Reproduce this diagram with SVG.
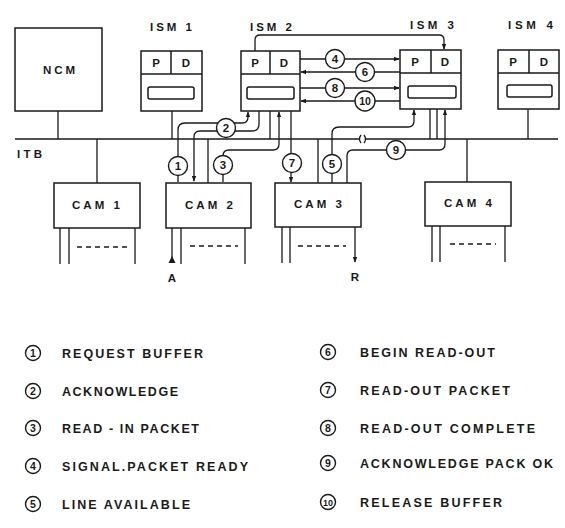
<svg xmlns="http://www.w3.org/2000/svg" width="565" height="528" viewBox="0 0 565 528">
<defs>
<marker id="ah" viewBox="0 0 8 8" refX="7" refY="4" markerWidth="6" markerHeight="6" orient="auto" markerUnits="userSpaceOnUse">
<path d="M0,1 L8,4 L0,7 Z" fill="#1a1a1a"/>
</marker>
<style>
.b{fill:none;stroke:#1a1a1a;stroke-width:1.5}
.ln{fill:none;stroke:#1a1a1a;stroke-width:1.3}
.c{fill:#fff;stroke:#1a1a1a;stroke-width:1.4}
.t{font-family:"Liberation Sans",Arial,sans-serif;font-weight:bold;fill:#1a1a1a}
.lbl{font-size:11.5px}
.n{font-size:11.5px;text-anchor:middle}
.ln8{font-size:10.5px;text-anchor:middle}
.lg{font-size:12.5px}
.dash{stroke:#1a1a1a;stroke-width:1.3;stroke-dasharray:5,4}
</style>
</defs>
<rect width="565" height="528" fill="#fff"/>

<g id="connectors">
<!-- bus ITB -->
<path class="b" d="M15,139 H359 M366,139 H558"/>
<path class="ln" d="M361,135 Q358,139 361,143 M364,135 Q367,139 364,143"/>
<!-- bus drops -->
<path class="ln" d="M58,111 V139 M172,111 V139 M270,111 V139 M430,109 V139 M437,109 V139 M528,109 V139"/>
<path class="ln" d="M97,139 V183 M208,139 V183 M318,139 V183 M467,139 V182"/>
<!-- top P(ISM2) to D(ISM3) -->
<path class="ln" d="M255,51 V40 Q255,35 260,35 H439 Q444,35 444,40 V49" marker-end="url(#ah)"/>
<!-- 4,6,8,10 -->
<path class="ln" d="M300,59 H399" marker-end="url(#ah)"/>
<path class="ln" d="M400,72 H301" marker-end="url(#ah)"/>
<path class="ln" d="M300,88 H399" marker-end="url(#ah)"/>
<path class="ln" d="M400,101 H301" marker-end="url(#ah)"/>
<!-- 1 -->
<path class="ln" d="M178,182 V130 Q178,123 185,123 H242 Q248,123 248,117 V112" marker-end="url(#ah)"/>
<!-- 2 -->
<path class="ln" d="M259,111 V124 Q259,131 252,131 H200 Q194,131 194,137 V181" marker-end="url(#ah)"/>
<!-- 3 -->
<path class="ln" d="M223,182 V156 Q223,150 229,150 H273 Q279,150 279,144 V112" marker-end="url(#ah)"/>
<!-- 7 -->
<path class="ln" d="M291,111 V182" marker-end="url(#ah)"/>
<!-- 5 -->
<path class="ln" d="M332,183 V134 Q332,127 339,127 H408 Q414,127 414,121 V110" marker-end="url(#ah)"/>
<!-- 9 -->
<path class="ln" d="M347,183 V156 Q347,150 353,150 H439 Q445,150 445,144 V110" marker-end="url(#ah)"/>
<!-- A and R -->
<path class="ln" d="M172,228 V260"/>
<path d="M168.5,263 L172,256 L175.5,263 Z" fill="#1a1a1a"/>
<path class="ln" d="M355,227 V262" marker-end="url(#ah)"/>
</g>

<g id="circles">
<circle class="c" cx="335" cy="59" r="9.5"/><text class="t n" x="335" y="63">4</text>
<circle class="c" cx="365" cy="72" r="9.5"/><text class="t n" x="365" y="76">6</text>
<circle class="c" cx="335" cy="88" r="9.5"/><text class="t n" x="335" y="92">8</text>
<circle class="c" cx="365" cy="101" r="10"/><text class="t n" x="365" y="105" style="font-size:10.5px">10</text>
<circle class="c" cx="178" cy="166" r="9.5"/><text class="t n" x="178" y="170">1</text>
<circle class="c" cx="226" cy="128" r="9.5"/><text class="t n" x="226" y="132">2</text>
<circle class="c" cx="223" cy="165" r="9.5"/><text class="t n" x="223" y="169">3</text>
<circle class="c" cx="292" cy="163" r="9.5"/><text class="t n" x="292" y="167">7</text>
<circle class="c" cx="332" cy="164" r="9.5"/><text class="t n" x="332" y="168">5</text>
<circle class="c" cx="396" cy="150" r="9.5"/><text class="t n" x="396" y="154">9</text>
</g>

<g id="ncm">
<rect class="b" x="15" y="28" width="87" height="83"/>
<text class="t lbl" x="43" y="74" textLength="32" lengthAdjust="spacing">NCM</text>
</g>
<text id="itb" class="t lbl" x="17" y="158" textLength="25" lengthAdjust="spacing">ITB</text>

<g id="ism1">
<text class="t lbl" x="150" y="31" textLength="42" lengthAdjust="spacing">ISM 1</text>
<rect class="b" x="141" y="51" width="61" height="60"/>
<path class="b" d="M141,74 H202 M171,51 V74"/>
<rect class="b" x="148" y="87" width="46" height="12" rx="2"/>
<text class="t n" x="156" y="67">P</text><text class="t n" x="186" y="67">D</text>
</g>
<g id="ism2">
<text class="t lbl" x="250" y="31" textLength="42" lengthAdjust="spacing">ISM 2</text>
<rect class="b" x="241" y="51" width="59" height="60"/>
<path class="b" d="M241,74 H300 M270,51 V74"/>
<rect class="b" x="247" y="87" width="47" height="12" rx="2"/>
<text class="t n" x="255" y="67">P</text><text class="t n" x="284" y="67">D</text>
</g>
<g id="ism3">
<text class="t lbl" x="410" y="29" textLength="44" lengthAdjust="spacing">ISM 3</text>
<rect class="b" x="400" y="50" width="61" height="59"/>
<path class="b" d="M400,73 H461 M431,50 V73"/>
<rect class="b" x="408" y="86" width="48" height="12" rx="2"/>
<text class="t n" x="415" y="66">P</text><text class="t n" x="445" y="66">D</text>
</g>
<g id="ism4">
<text class="t lbl" x="508" y="29" textLength="45" lengthAdjust="spacing">ISM 4</text>
<rect class="b" x="498" y="50" width="61" height="59"/>
<path class="b" d="M498,73 H559 M529,50 V73"/>
<rect class="b" x="507" y="85" width="45" height="12" rx="2"/>
<text class="t n" x="513" y="66">P</text><text class="t n" x="544" y="66">D</text>
</g>

<g id="cam1">
<rect class="b" x="54" y="183" width="86" height="45"/>
<text class="t lbl" x="72" y="209" textLength="48" lengthAdjust="spacing">CAM 1</text>
<path class="ln" d="M60,228 V264 M69,228 V264 M135,228 V264"/>
<path class="dash" d="M77,247 H128"/>
</g>
<g id="cam2">
<rect class="b" x="166" y="183" width="85" height="45"/>
<text class="t lbl" x="185" y="209" textLength="48" lengthAdjust="spacing">CAM 2</text>
<path class="ln" d="M181,228 V264 M245,228 V264"/>
<path class="dash" d="M190,246 H238"/>
<text class="t lbl" x="172" y="282" text-anchor="middle">A</text>
</g>
<g id="cam3">
<rect class="b" x="275" y="183" width="86" height="44"/>
<text class="t lbl" x="294" y="208" textLength="48" lengthAdjust="spacing">CAM 3</text>
<path class="ln" d="M282,227 V263 M290,227 V263"/>
<path class="dash" d="M298,246 H346"/>
<text class="t lbl" x="355" y="281" text-anchor="middle">R</text>
</g>
<g id="cam4">
<rect class="b" x="425" y="182" width="86" height="44"/>
<text class="t lbl" x="444" y="207" textLength="48" lengthAdjust="spacing">CAM 4</text>
<path class="ln" d="M432,226 V262 M440,226 V262 M505,226 V262"/>
<path class="dash" d="M450,244 H496"/>
</g>

<g id="legend">
<circle class="c" cx="33" cy="353" r="7.5"/><text class="t ln8" x="33" y="357">1</text>
<text class="t lg" x="62" y="358" textLength="141" lengthAdjust="spacing">REQUEST BUFFER</text>
<circle class="c" cx="33" cy="391" r="7.5"/><text class="t ln8" x="33" y="395">2</text>
<text class="t lg" x="62" y="396" textLength="116" lengthAdjust="spacing">ACKNOWLEDGE</text>
<circle class="c" cx="33" cy="428" r="7.5"/><text class="t ln8" x="33" y="432">3</text>
<text class="t lg" x="62" y="433" textLength="137" lengthAdjust="spacing">READ - IN PACKET</text>
<circle class="c" cx="33" cy="466" r="7.5"/><text class="t ln8" x="33" y="470">4</text>
<text class="t lg" x="62" y="471" textLength="186" lengthAdjust="spacing">SIGNAL.PACKET READY</text>
<circle class="c" cx="33" cy="504" r="7.5"/><text class="t ln8" x="33" y="508">5</text>
<text class="t lg" x="62" y="509" textLength="128" lengthAdjust="spacing">LINE AVAILABLE</text>

<circle class="c" cx="328" cy="352" r="7.5"/><text class="t ln8" x="328" y="356">6</text>
<text class="t lg" x="360" y="357" textLength="135" lengthAdjust="spacing">BEGIN READ-OUT</text>
<circle class="c" cx="328" cy="390" r="7.5"/><text class="t ln8" x="328" y="394">7</text>
<text class="t lg" x="360" y="395" textLength="150" lengthAdjust="spacing">READ-OUT PACKET</text>
<circle class="c" cx="328" cy="428" r="7.5"/><text class="t ln8" x="328" y="432">8</text>
<text class="t lg" x="360" y="433" textLength="175" lengthAdjust="spacing">READ-OUT COMPLETE</text>
<circle class="c" cx="328" cy="463" r="7.5"/><text class="t ln8" x="328" y="467">9</text>
<text class="t lg" x="360" y="468" textLength="193" lengthAdjust="spacing">ACKNOWLEDGE PACK OK</text>
<circle class="c" cx="328" cy="502" r="7.5"/><text class="t ln8" x="328" y="505.5" style="font-size:9px">10</text>
<text class="t lg" x="360" y="507" textLength="142" lengthAdjust="spacing">RELEASE BUFFER</text>
</g>
</svg>
